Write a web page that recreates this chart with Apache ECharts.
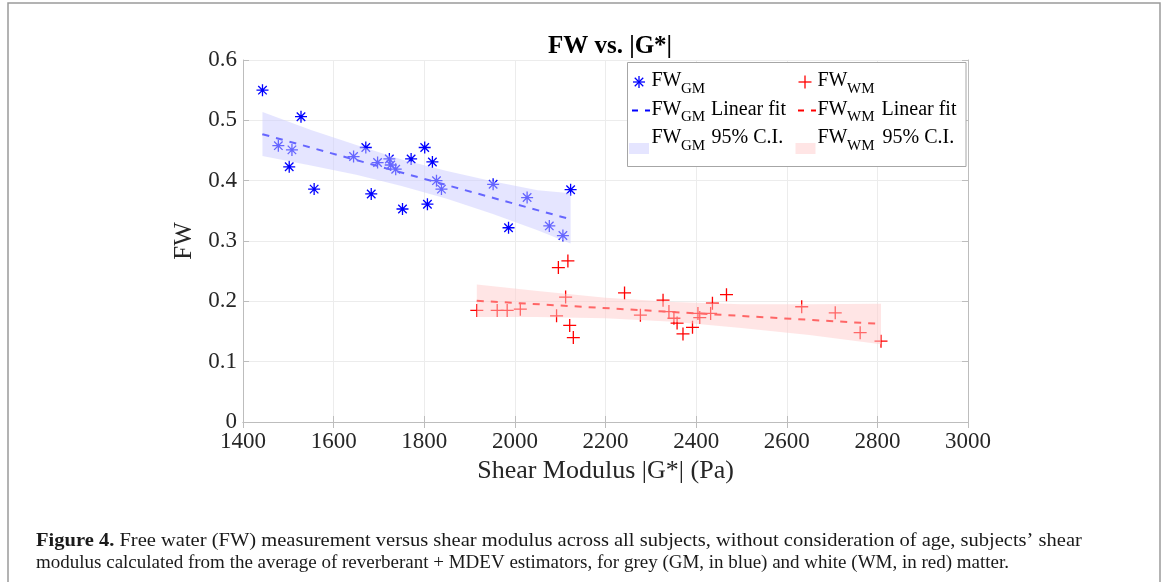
<!DOCTYPE html>
<html>
<head>
<meta charset="utf-8">
<title>FW vs. |G*|</title>
<script src="https://cdn.jsdelivr.net/npm/echarts/dist/echarts.min.js"></script>
<style>
  html, body { margin: 0; padding: 0; background: #ffffff; }
  #chart { width: 1168px; height: 582px; }
</style>
</head>
<body>
<div id="chart"></div>
<script>
// Grey matter (GM): free water vs. shear modulus
const gmX = [1443, 1528, 1478, 1508, 1502, 1557, 1644, 1671, 1683, 1697, 1723, 1726, 1737,
             1752, 1771, 1801, 1807, 1818, 1827, 1838, 1952, 1986, 2027, 2076, 2106, 2123];
const gmY = [0.550, 0.506, 0.458, 0.451, 0.423, 0.386, 0.440, 0.455, 0.378, 0.430, 0.436, 0.426, 0.419,
             0.353, 0.436, 0.455, 0.361, 0.431, 0.400, 0.386, 0.394, 0.322, 0.372, 0.325, 0.309, 0.385];

// White matter (WM): free water vs. shear modulus
const wmX = [1916, 1961, 1983, 2012, 2092, 2096, 2112, 2117, 2121, 2129, 2242, 2277, 2327, 2340,
             2351, 2358, 2371, 2392, 2404, 2408, 2432, 2436, 2467, 2633, 2707, 2762, 2808];
const wmY = [0.185, 0.185, 0.185, 0.187, 0.176, 0.256, 0.207, 0.267, 0.160, 0.140, 0.214, 0.177, 0.202, 0.183,
             0.172, 0.164, 0.146, 0.157, 0.180, 0.173, 0.180, 0.197, 0.211, 0.191, 0.181, 0.148, 0.134];

// Linear fits (end points)
const gmFitX = [1443, 2123];
const gmFitY = [0.477, 0.336];
const wmFitX = [1916, 2808];
const wmFitY = [0.201, 0.1625];

// 95% confidence bands of the fits
const gmBandX  = [1443, 1550, 1650, 1750, 1850, 1950, 2050, 2123];
const gmBandLo = [0.441, 0.425, 0.410, 0.391, 0.370, 0.345, 0.318, 0.296];
const gmBandHi = [0.514, 0.484, 0.459, 0.435, 0.416, 0.399, 0.384, 0.379];
const wmBandX  = [1916, 2050, 2200, 2350, 2500, 2650, 2808];
const wmBandLo = [0.174, 0.174, 0.172, 0.166, 0.156, 0.144, 0.129];
const wmBandHi = [0.228, 0.217, 0.206, 0.199, 0.195, 0.195, 0.196];

// Axis ticks
const xTicks = [1400, 1600, 1800, 2000, 2200, 2400, 2600, 2800, 3000];
const yTicks = [0, 0.1, 0.2, 0.3, 0.4, 0.5, 0.6];

const FONT = '"Liberation Serif", "DejaVu Serif", serif';
const BLUE = '#0000ff';
const RED = '#ff0000';
const BLUE_BAND = 'rgba(204,204,255,0.5)';
const RED_BAND = 'rgba(255,204,204,0.5)';
const AXIS_GREY = '#bdbdbd';

const ASTERISK = 'path://M0,-6L0,6M-6,0L6,0M-4.24,-4.24L4.24,4.24M-4.24,4.24L4.24,-4.24';
const PLUS = 'path://M0,-6L0,6M-6,0L6,0';

const zip = (xs, ys) => xs.map((x, i) => [x, ys[i]]);

function bandSeries(name, xs, lo, hi, fill) {
  return {
    name: name,
    type: 'custom',
    z: 3,
    silent: true,
    data: xs.map((x, i) => [x, lo[i], hi[i]]),
    encode: { x: 0, y: [1, 2] },
    renderItem: function (params, api) {
      if (params.dataIndex !== 0) return;
      const pts = [];
      for (let i = 0; i < xs.length; i++) pts.push(api.coord([xs[i], hi[i]]));
      for (let i = xs.length - 1; i >= 0; i--) pts.push(api.coord([xs[i], lo[i]]));
      return { type: 'polygon', shape: { points: pts }, style: { fill: fill, stroke: null } };
    }
  };
}

function axisCommon(pos, min, max, interval, showLabels) {
  return {
    type: 'value',
    position: pos,
    min: min, max: max, interval: interval,
    axisLine: { show: true, lineStyle: { color: AXIS_GREY, width: 1 } },
    axisTick: { show: true, inside: true, length: 6, lineStyle: { color: AXIS_GREY } },
    splitLine: { show: showLabels, lineStyle: { color: '#ececec', width: 1 } },
    axisLabel: { show: showLabels }
  };
}

// Legend pieces (MATLAB-style box in the upper right of the axes)
function t(x, y, s, size, extra) {
  return Object.assign({
    type: 'text', x: x, y: y, z: 12,
    style: { text: s, fontFamily: FONT, fontSize: size, fill: '#000', verticalAlign: 'middle', align: 'left' }
  }, extra || {});
}
function seg(x1, y1, x2, y2, color, w) {
  return { type: 'line', z: 12, shape: { x1, y1, x2, y2 }, style: { stroke: color, lineWidth: w } };
}
function asterisk(cx, cy, r, color) {
  const d = r * 0.707;
  return [seg(cx, cy - r, cx, cy + r, color, 1.3), seg(cx - r, cy, cx + r, cy, color, 1.3),
          seg(cx - d, cy - d, cx + d, cy + d, color, 1.3), seg(cx - d, cy + d, cx + d, cy - d, color, 1.3)];
}
function plus(cx, cy, r, color) {
  return [seg(cx, cy - r, cx, cy + r, color, 1.3), seg(cx - r, cy, cx + r, cy, color, 1.3)];
}

const rows = [81, 109.5, 138];
const legend = [
  { type: 'rect', z: 10, shape: { x: 627.5, y: 62.5, width: 338.5, height: 104 },
    style: { fill: '#ffffff', stroke: '#a6a6a6', lineWidth: 1 } },
  ...asterisk(639, 82, 6, BLUE),
  t(651.5, rows[0], 'FW', 20), t(681, rows[0] + 8, 'GM', 15),
  ...plus(805, 82, 6.5, RED),
  t(817.5, rows[0], 'FW', 20), t(847, rows[0] + 8, 'WM', 15),
  seg(632, 110.5, 638, 110.5, BLUE, 2), seg(645, 110.5, 650, 110.5, BLUE, 2),
  t(651.5, rows[1], 'FW', 20), t(681, rows[1] + 8, 'GM', 15), t(711, rows[1], 'Linear fit', 20),
  seg(798, 110.5, 804, 110.5, RED, 2), seg(811, 110.5, 816, 110.5, RED, 2),
  t(817.5, rows[1], 'FW', 20), t(847, rows[1] + 8, 'WM', 15), t(881.5, rows[1], 'Linear fit', 20),
  { type: 'rect', z: 11, shape: { x: 629, y: 143, width: 20, height: 11 }, style: { fill: BLUE_BAND } },
  t(651.5, rows[2], 'FW', 20), t(681, rows[2] + 8, 'GM', 15), t(711.5, rows[2], '95% C.I.', 20),
  { type: 'rect', z: 11, shape: { x: 795.5, y: 143, width: 20, height: 11 }, style: { fill: RED_BAND } },
  t(817.5, rows[2], 'FW', 20), t(847, rows[2] + 8, 'WM', 15), t(882.5, rows[2], '95% C.I.', 20)
];

// Figure caption: the first line is justified to the full text width
const captionStyle = { fontFamily: FONT, fontSize: 19, fill: '#1a1a1a', verticalAlign: 'middle', align: 'left' };
const caption1 = {
  type: 'text', x: 36, y: 541, z: 12, scaleX: 1.08,
  style: Object.assign({}, captionStyle, {
    text: '{b|Figure 4.} Free water (FW) measurement versus shear modulus across all subjects, without consideration of age, subjects\u2019 shear',
    rich: { b: { fontFamily: FONT, fontSize: 19, fontWeight: 'bold', fill: '#1a1a1a' } }
  })
};
const caption2 = {
  type: 'text', x: 36, y: 563, z: 12,
  style: Object.assign({}, captionStyle, {
    text: 'modulus calculated from the average of reverberant + MDEV estimators, for grey (GM, in blue) and white (WM, in red) matter.'
  })
};

const frame = { type: 'rect', z: 1, shape: { x: 8, y: 3, width: 1152, height: 620 },
                style: { fill: null, stroke: '#9a9a9a', lineWidth: 1.5 } };

const chart = echarts.init(document.getElementById('chart'), null, { renderer: 'canvas' });

const xMain = axisCommon('bottom', xTicks[0], xTicks[xTicks.length - 1], 200, true);
xMain.axisLabel = { show: true, margin: 8, fontFamily: FONT, fontSize: 23, color: '#262626',
                    formatter: v => String(v) };
xMain.name = 'Shear Modulus |G*| (Pa)';
xMain.nameLocation = 'middle';
xMain.nameGap = 35;
xMain.nameTextStyle = { fontFamily: FONT, fontSize: 26, color: '#262626' };

const yMain = axisCommon('left', yTicks[0], yTicks[yTicks.length - 1], 0.1, true);
yMain.axisLabel = { show: true, margin: 6, fontFamily: FONT, fontSize: 23, color: '#262626',
                    formatter: v => (Math.round(v * 10) / 10).toString() };
yMain.name = 'FW';
yMain.nameLocation = 'middle';
yMain.nameGap = 46;
yMain.nameTextStyle = { fontFamily: FONT, fontSize: 25, color: '#262626' };

chart.setOption({
  animation: false,
  backgroundColor: '#ffffff',
  title: {
    text: 'FW vs. |G*|',
    left: 605, top: 29, textAlign: 'center',
    textStyle: { fontFamily: FONT, fontSize: 25, fontWeight: 'bold', color: '#000' }
  },
  grid: { left: 243, top: 60, width: 725, height: 362 },
  xAxis: [xMain, axisCommon('top', xTicks[0], xTicks[xTicks.length - 1], 200, false)],
  yAxis: [yMain, axisCommon('right', yTicks[0], yTicks[yTicks.length - 1], 0.1, false)],
  series: [
    { name: 'FW GM', type: 'scatter', z: 2, data: zip(gmX, gmY), symbol: ASTERISK, symbolSize: 12,
      itemStyle: { color: 'rgba(0,0,0,0)', borderColor: BLUE, borderWidth: 1.3, opacity: 1 } },
    { name: 'FW WM', type: 'scatter', z: 2, data: zip(wmX, wmY), symbol: PLUS, symbolSize: 13,
      itemStyle: { color: 'rgba(0,0,0,0)', borderColor: RED, borderWidth: 1.3, opacity: 1 } },
    { name: 'FW GM Linear fit', type: 'line', z: 2, data: zip(gmFitX, gmFitY), symbol: 'none',
      lineStyle: { color: BLUE, width: 2, type: [7, 7] } },
    { name: 'FW WM Linear fit', type: 'line', z: 2, data: zip(wmFitX, wmFitY), symbol: 'none',
      lineStyle: { color: RED, width: 2, type: [7, 7] } },
    bandSeries('FW GM 95% C.I.', gmBandX, gmBandLo, gmBandHi, BLUE_BAND),
    bandSeries('FW WM 95% C.I.', wmBandX, wmBandLo, wmBandHi, RED_BAND)
  ],
  graphic: [frame, ...legend, caption1, caption2]
});
</script>
</body>
</html>
